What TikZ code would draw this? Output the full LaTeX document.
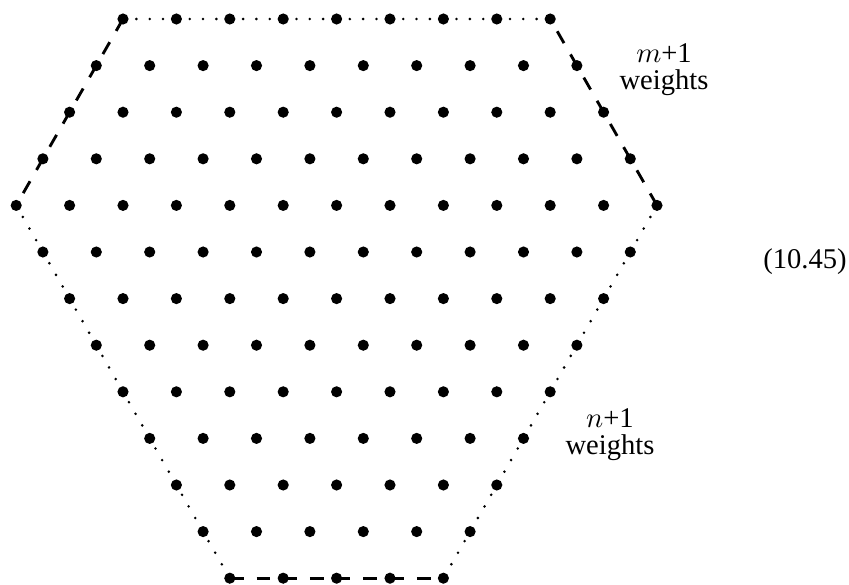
\documentclass[tikz,border=0pt]{standalone}
\usepackage{fontspec}
\setmainfont{Liberation Serif}
\begin{document}
\begin{tikzpicture}[x=0.35pt, y=-0.35pt]
    \tikzstyle{site} = [circle, fill=black, inner sep=0pt, minimum size=3.9pt]
    \tikzstyle{dashedge} = [line width=1pt, dash pattern=on 4.8pt off 4.55pt]
    \tikzstyle{dotedge} = [line width=1pt, line cap=round, dash pattern=on 0pt off 4.67pt]
    \tikzstyle{label} = [align=center, inner sep=0pt, font=\fontsize{10}{9.5}\selectfont]

    \useasboundingbox (0,0) rectangle (849,585);

    % Lattice sites, row by row
    \foreach \r in {0,...,12} {
        \pgfmathtruncatemacro{\kmax}{12-abs(\r-4)}
        \pgfmathsetmacro{\xstart}{16.2+26.7*abs(\r-4)}
        \foreach \k in {0,...,\kmax}
            \node [site] (d-\r-\k) at (\xstart+53.4*\k, 19+46.6*\r) {};
    }

    % Boundary
    \draw [dotedge] (d-0-0.center) -- (d-0-8.center);
    \draw [dashedge] (d-4-12.center) -- (d-0-8.center);
    \draw [dotedge] (d-4-12.center) -- (d-12-4.center);
    \draw [dashedge] (d-12-0.center) -- (d-12-4.center);
    \draw [dotedge] (d-4-0.center) -- (d-12-0.center);
    \draw [dashedge] (d-0-0.center) -- (d-4-0.center);

    % Labels
    \node [label] (mlabel) at (664,70) {$m$+1\\weights};
    \node [label] (nlabel) at (610,435) {$n$+1\\weights};
    \node [label] (eqno) at (805,262) {(10.45)};
\end{tikzpicture}
\end{document}
